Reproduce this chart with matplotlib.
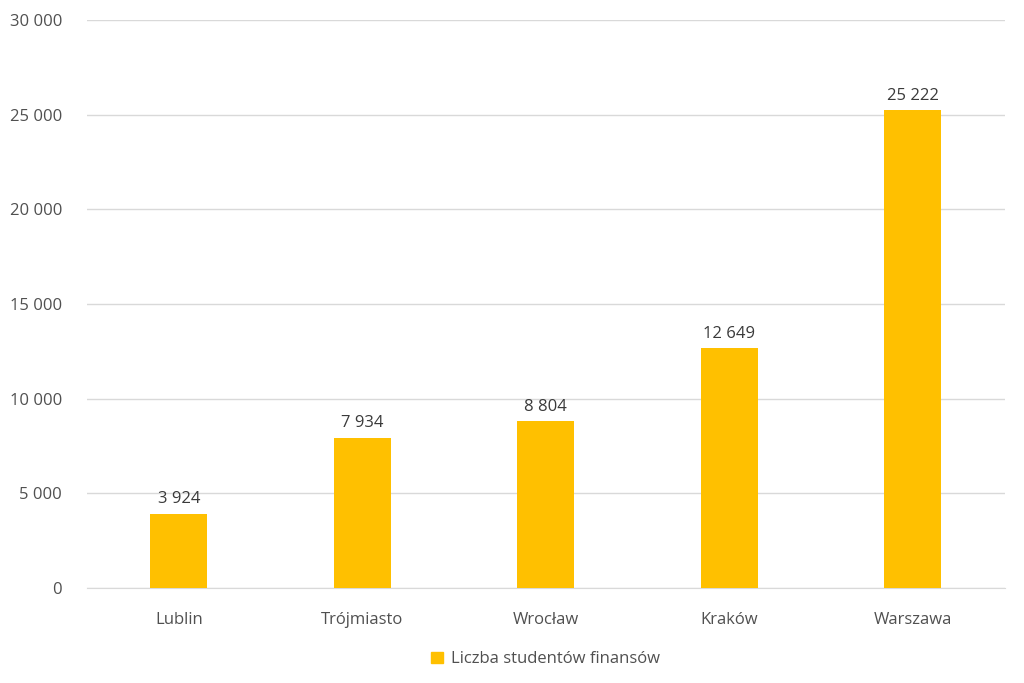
import matplotlib.pyplot as plt
from matplotlib.patches import Patch

cities = ['Lublin', 'Trójmiasto', 'Wrocław', 'Kraków', 'Warszawa']
students = [3924, 7934, 8804, 12649, 25222]
yticks = [0, 5000, 10000, 15000, 20000, 25000, 30000]

bar_color = '#FFC000'
text_color = '#505050'

plt.rcParams['font.family'] = ['Open Sans', 'DejaVu Sans']

def fmt(v):
    return '{:,}'.format(int(v)).replace(',', ' ')

fig = plt.figure(figsize=(10.24, 6.83), dpi=100)
ax = fig.add_axes([0.085, 0.139, 0.896, 0.832])

x = range(len(cities))
ax.bar(x, students, width=0.31, color=bar_color, zorder=3)

for xi, v in zip(x, students):
    ax.text(xi, v + 350, fmt(v), ha='center', va='bottom', fontsize=12,
            color='#3a3a3a')

ax.set_xlim(-0.5, len(cities) - 0.5)
ax.set_ylim(0, 30000)
ax.set_yticks(yticks)
ax.set_yticklabels([fmt(t) for t in yticks], fontsize=12, color=text_color)
ax.set_xticks(list(x))
ax.set_xticklabels(cities, fontsize=12, color=text_color)
ax.tick_params(axis='both', length=0)
ax.tick_params(axis='y', pad=18)
ax.tick_params(axis='x', pad=17)

ax.grid(axis='y', color='#D9D9D9', linewidth=1, zorder=0)
for s in ['top', 'right', 'left']:
    ax.spines[s].set_visible(False)
ax.spines['bottom'].set_color('#D9D9D9')

ax.legend(handles=[Patch(color=bar_color, label='Liczba studentów finansów')],
          loc='upper center', bbox_to_anchor=(0.5, -0.085), frameon=False,
          fontsize=12, labelcolor=text_color, handlelength=0.7, handleheight=0.7,
          handletextpad=0.5)

fig.savefig('out.png', dpi=100)
